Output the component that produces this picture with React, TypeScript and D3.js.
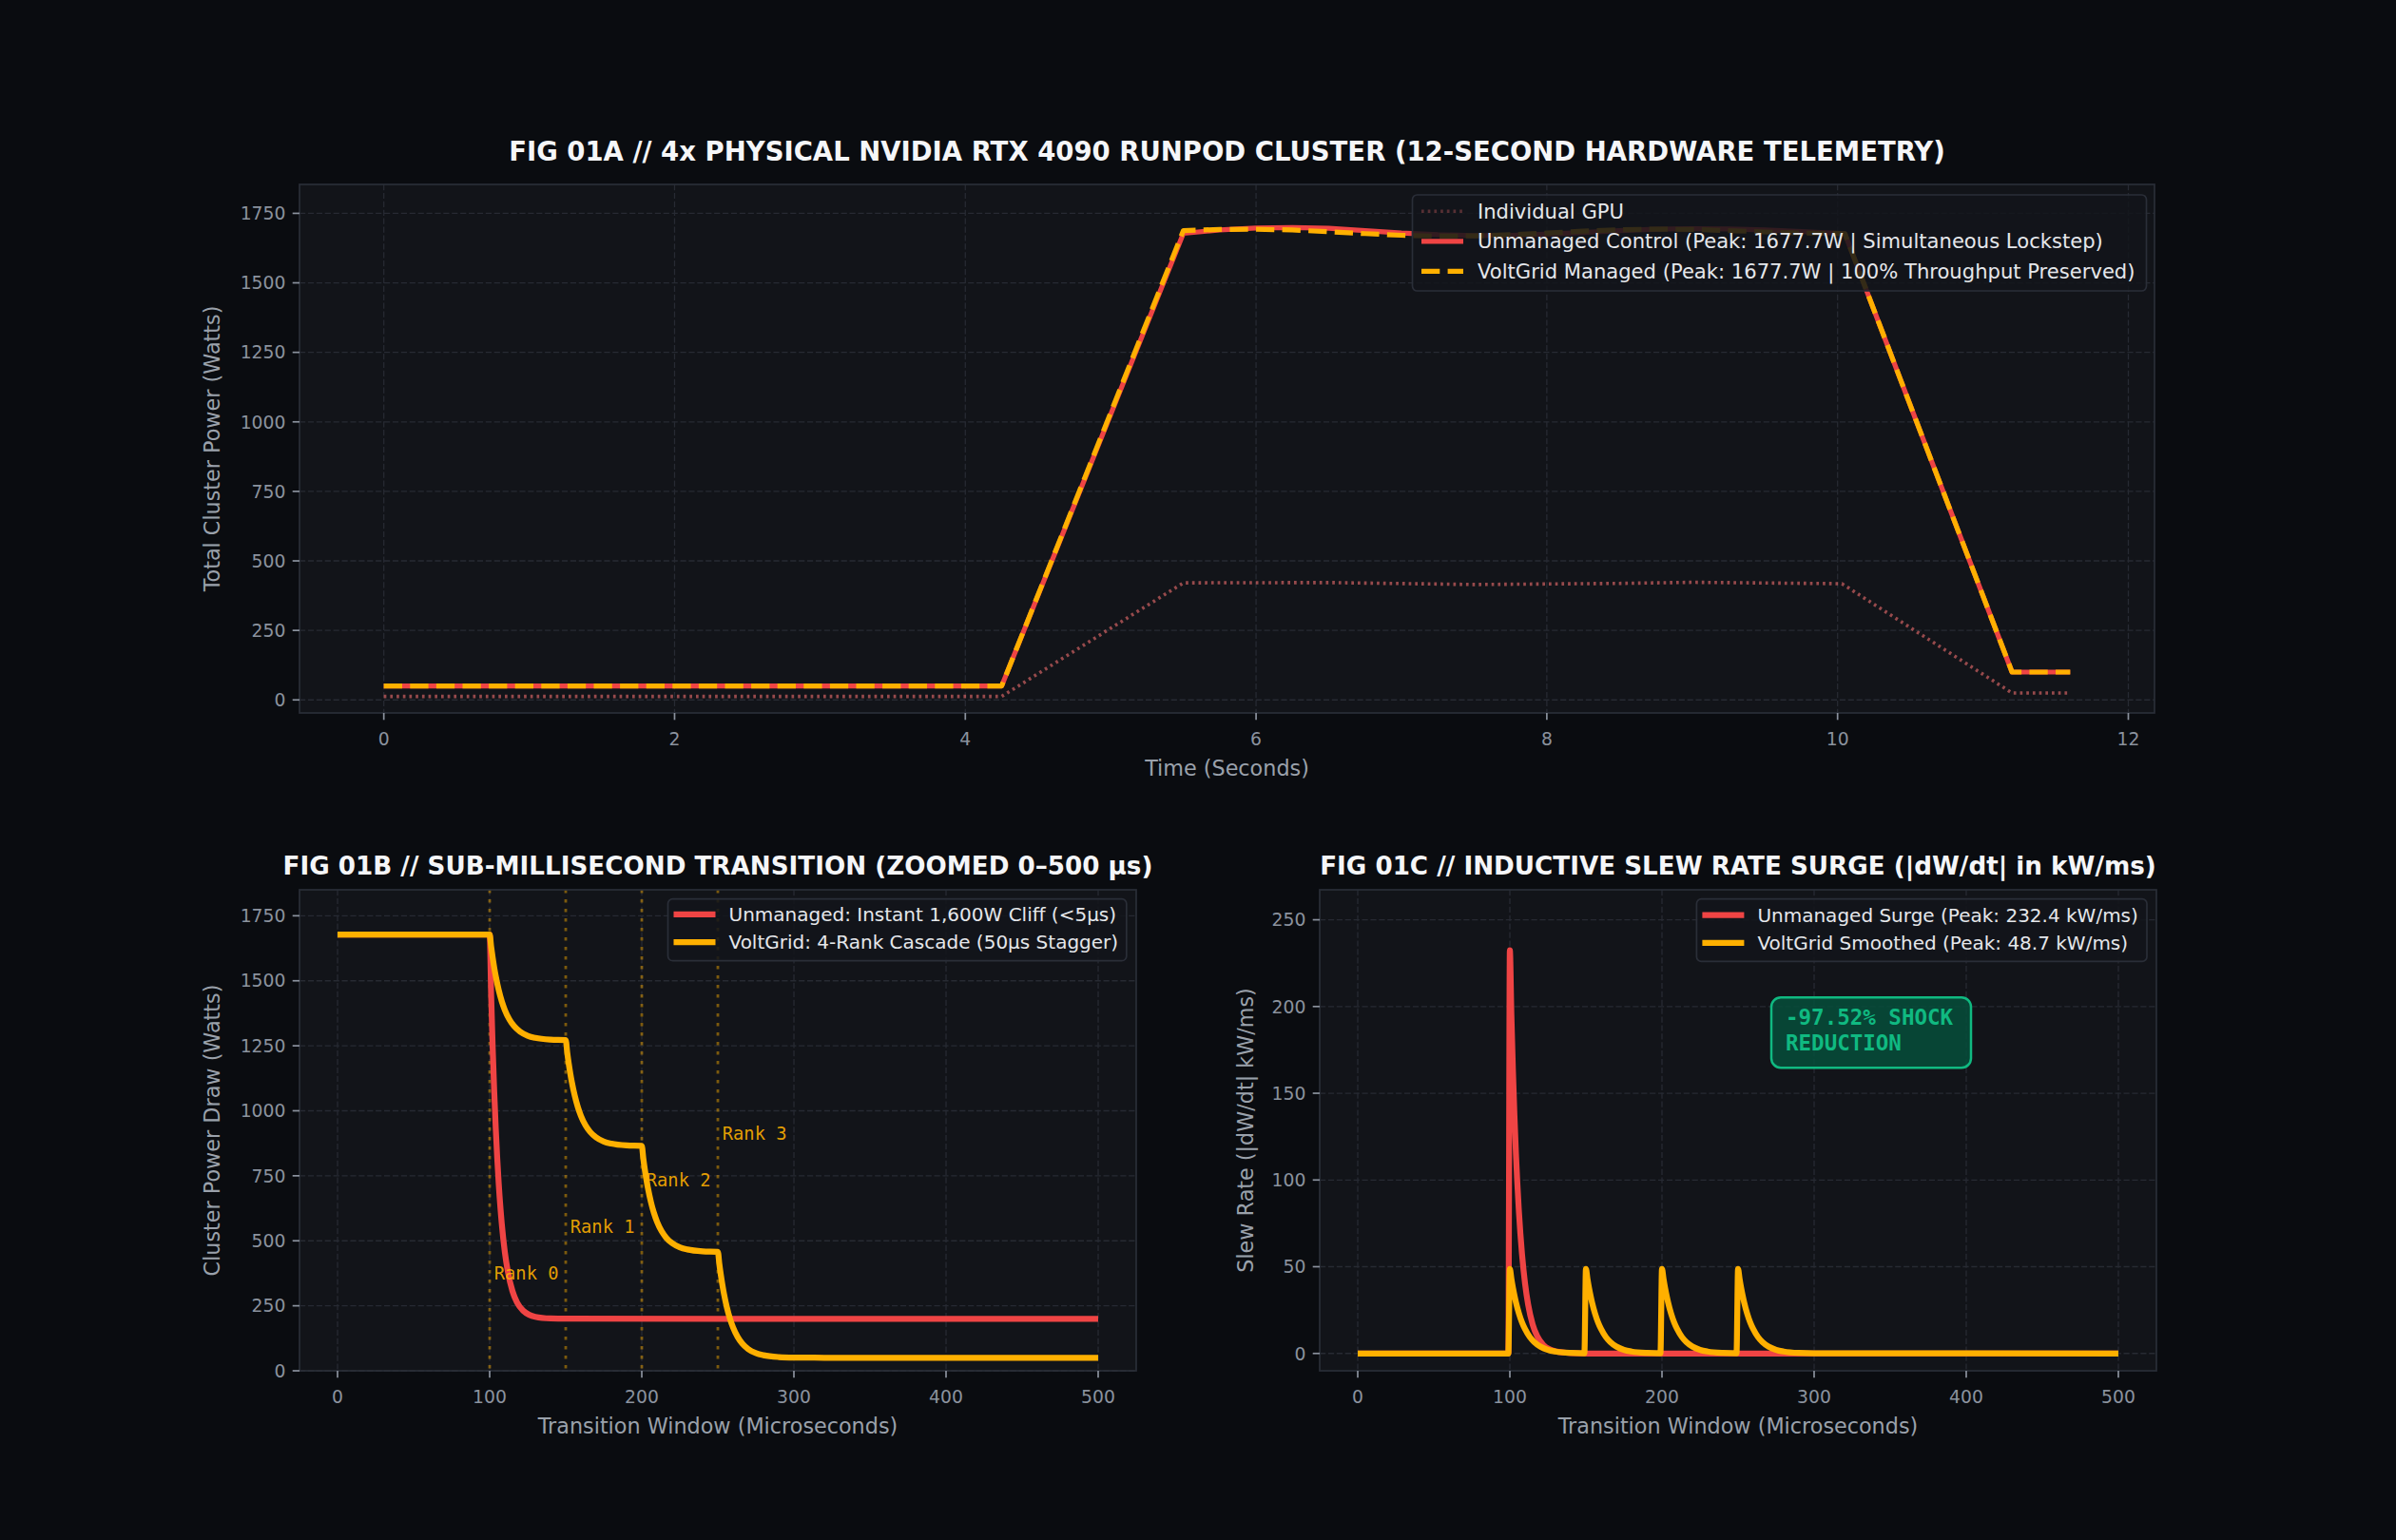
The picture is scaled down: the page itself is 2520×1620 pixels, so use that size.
import React from 'react';
import * as d3 from 'd3';

const WIDTH = 2520;
const HEIGHT = 1620;

// ---------------- FIG 01A : 12-second telemetry ----------------
const fig1aTime = [0, 4.25, 5.5, 5.75, 6.0, 6.25, 6.5, 6.75, 7.0, 7.25, 7.5, 7.75, 8.0, 8.25, 8.5, 8.75, 9.0, 9.25, 9.5, 9.75, 10.05, 11.2, 11.6];
const fig1aUnmanaged = [50, 50, 1678, 1690, 1697, 1699, 1696, 1688, 1679, 1673, 1670, 1671, 1675, 1681, 1688, 1693, 1695, 1694, 1690, 1684, 1677, 100, 100];
const fig1aVoltGrid = [50, 50, 1688, 1692, 1693, 1690, 1684, 1677, 1671, 1668, 1669, 1673, 1679, 1686, 1691, 1693, 1692, 1688, 1683, 1679, 1677, 100, 100];
const fig1aGpuTime = [0, 4.25, 5.5, 6.5, 7.5, 8.5, 9.0, 10.03, 11.2, 11.6];
const fig1aGpu = [12.5, 12.5, 421, 422, 415, 419, 423, 418, 25, 25];
const fig1aXTicks = [0, 2, 4, 6, 8, 10, 12];
const powerTicks = [0, 250, 500, 750, 1000, 1250, 1500, 1750];

// ---------------- FIG 01B : sub-millisecond transition ----------------
const fig1bUnmanagedT = [0, 100, 101, 102, 103, 104, 106, 108, 110, 112, 115, 118, 122, 126, 130, 140, 150, 500];
const fig1bUnmanagedW = [1677.7, 1677.7, 1440, 1240.5, 1073.2, 932.8, 715.9, 563.1, 455.6, 380, 306.2, 262.8, 231.2, 215.4, 207.7, 201.3, 200.2, 200];
const fig1bVoltGridT = [
  0, 100, 101, 102, 103, 104, 106, 108, 110, 113, 116, 120, 125, 130, 140,
  150, 151, 152, 153, 154, 156, 158, 160, 163, 166, 170, 175, 180, 190,
  200, 201, 202, 203, 204, 206, 208, 210, 213, 216, 220, 225, 230, 240,
  250, 251, 252, 253, 254, 256, 258, 260, 263, 266, 270, 275, 280, 290, 300, 320, 500,
];
const fig1bVoltGridW = [
  1677.7, 1677.7, 1629.9, 1587.7, 1550.5, 1517.6, 1463.0, 1420.5, 1387.4, 1350.9, 1325.9, 1304.2, 1288.7, 1280.4, 1273.5,
  1271.6, 1223.3, 1181.0, 1143.8, 1110.9, 1056.3, 1013.7, 980.6, 944.1, 919.1, 897.4, 881.9, 873.6, 866.6,
  864.7, 816.3, 774.1, 736.9, 704.0, 649.4, 606.8, 573.7, 537.2, 512.2, 490.5, 475.0, 466.7, 459.7,
  457.8, 409.4, 367.2, 330.0, 297.1, 242.5, 199.9, 166.8, 130.3, 105.3, 83.6, 68.1, 59.8, 52.9, 51.0, 50.2, 50.1,
];
const rankTimes = [100, 150, 200, 250];
const rankLabels = ['Rank 0', 'Rank 1', 'Rank 2', 'Rank 3'];
const usTicks = [0, 100, 200, 300, 400, 500];

// ---------------- FIG 01C : slew rate ----------------
const fig1cUnmanagedT = [0, 99, 100, 101, 102, 103, 104, 106, 108, 110, 112, 115, 118, 122, 126, 130, 140, 150, 500];
const fig1cUnmanagedV = [0, 0, 232.4, 195.0, 163.6, 137.3, 115.2, 81.1, 57.1, 40.2, 28.3, 16.7, 9.9, 4.9, 2.4, 1.2, 0.2, 0, 0];
const fig1cVoltGridT = [
  0, 99, 100, 101, 102, 103, 104, 106, 108, 110, 113, 116, 120, 125, 130, 140,
  149, 150, 151, 152, 153, 154, 156, 158, 160, 163, 166, 170, 175, 180, 190,
  199, 200, 201, 202, 203, 204, 206, 208, 210, 213, 216, 220, 225, 230, 240,
  249, 250, 251, 252, 253, 254, 256, 258, 260, 263, 266, 270, 275, 280, 290, 300, 500,
];
const fig1cVoltGridV = [
  0, 0, 48.7, 43.0, 37.9, 33.5, 29.5, 23.0, 17.9, 14.0, 9.6, 6.6, 4.0, 2.1, 1.1, 0.3,
  0.1, 48.7, 43.0, 37.9, 33.5, 29.5, 23.0, 17.9, 14.0, 9.6, 6.6, 4.0, 2.1, 1.1, 0.3,
  0.1, 48.7, 43.0, 37.9, 33.5, 29.5, 23.0, 17.9, 14.0, 9.6, 6.6, 4.0, 2.1, 1.1, 0.3,
  0.1, 48.7, 43.0, 37.9, 33.5, 29.5, 23.0, 17.9, 14.0, 9.6, 6.6, 4.0, 2.1, 1.1, 0.3, 0.1, 0,
];
const slewTicks = [0, 50, 100, 150, 200, 250];

// ---------------- styles ----------------
const FIG_BG = '#0a0c10';
const AX_BG = '#121419';
const GRID = '#272a33';
const SPINE = '#2a2e38';
const TICK = '#8b929e';
const LABEL = '#9aa1ab';
const RED = '#ef4444';
const GPU_RED = '#f87171';
const YELLOW = '#ffb000';
const GREEN = '#10b981';
const FONT = '"DejaVu Sans", Verdana, sans-serif';
const MONO = '"DejaVu Sans Mono", monospace';

type Box = { l: number; r: number; t: number; b: number };
type Scale = d3.ScaleLinear<number, number>;

const zip = (ts: number[], vs: number[]): [number, number][] => ts.map((t, i) => [t, vs[i]]);

function pathOf(x: Scale, y: Scale, ts: number[], vs: number[], curve: d3.CurveFactory = d3.curveLinear) {
  return d3
    .line<[number, number]>()
    .x((d) => x(d[0]))
    .y((d) => y(d[1]))
    .curve(curve)(zip(ts, vs)) as string;
}

type LegendRow = { label: string; color: string; width: number; dash?: string; opacity?: number };

function Legend({ left, top, w, h, rows, rowOffsets, hx0, hx1, tx, fontSize }: {
  left: number; top: number; w: number; h: number; rows: LegendRow[]; rowOffsets: number[];
  hx0: number; hx1: number; tx: number; fontSize: number;
}) {
  return (
    <g>
      <rect x={left} y={top} width={w} height={h} rx={5} fill="#13151b" fillOpacity={0.86} stroke={SPINE} strokeWidth={1.7} />
      {rows.map((r, i) => (
        <g key={i}>
          <line x1={left + hx0} x2={left + hx1} y1={top + rowOffsets[i]} y2={top + rowOffsets[i]} stroke={r.color}
            strokeWidth={r.width} strokeDasharray={r.dash} strokeOpacity={r.opacity ?? 1} />
          <text x={left + tx} y={top + rowOffsets[i] + fontSize * 0.36} fill="#e5e7eb" fontSize={fontSize} fontFamily={FONT}>
            {r.label}
          </text>
        </g>
      ))}
    </g>
  );
}

function Frame({ id, box, x, y, xTicks, yTicks, xLabel, yLabel, yLabelOffset, title, titleY, titleSize, children, overlay }: {
  id: string; box: Box; x: Scale; y: Scale; xTicks: number[]; yTicks: number[]; xLabel: string; yLabel: string;
  yLabelOffset: number; title: string; titleY: number; titleSize: number; children: React.ReactNode; overlay?: React.ReactNode;
}) {
  const fs = 18.75;
  const tickLen = 7.3;
  const cx = (box.l + box.r) / 2;
  const cy = (box.t + box.b) / 2;
  return (
    <g>
      <rect x={box.l} y={box.t} width={box.r - box.l} height={box.b - box.t} fill={AX_BG} />
      <clipPath id={id}>
        <rect x={box.l} y={box.t} width={box.r - box.l} height={box.b - box.t} />
      </clipPath>
      <g>
        {xTicks.map((v) => (
          <line key={'gx' + v} x1={x(v)} x2={x(v)} y1={box.t} y2={box.b} stroke={GRID} strokeWidth={1.3} strokeDasharray="6.2 2.7" />
        ))}
        {yTicks.map((v) => (
          <line key={'gy' + v} x1={box.l} x2={box.r} y1={y(v)} y2={y(v)} stroke={GRID} strokeWidth={1.3} strokeDasharray="6.2 2.7" />
        ))}
      </g>
      <g clipPath={`url(#${id})`}>{children}</g>
      <rect x={box.l} y={box.t} width={box.r - box.l} height={box.b - box.t} fill="none" stroke={SPINE} strokeWidth={1.7} />
      {xTicks.map((v) => (
        <g key={'tx' + v}>
          <line x1={x(v)} x2={x(v)} y1={box.b} y2={box.b + tickLen} stroke={TICK} strokeWidth={1.7} />
          <text x={x(v)} y={box.b + 33.5} textAnchor="middle" fill={TICK} fontSize={fs} fontFamily={FONT}>
            {d3.format('d')(v)}
          </text>
        </g>
      ))}
      {yTicks.map((v) => (
        <g key={'ty' + v}>
          <line x1={box.l - tickLen} x2={box.l} y1={y(v)} y2={y(v)} stroke={TICK} strokeWidth={1.7} />
          <text x={box.l - 14.6} y={y(v) + fs * 0.36} textAnchor="end" fill={TICK} fontSize={fs} fontFamily={FONT}>
            {d3.format('d')(v)}
          </text>
        </g>
      ))}
      <text x={cx} y={box.b + 66} textAnchor="middle" fill={LABEL} fontSize={22.3} fontFamily={FONT}>
        {xLabel}
      </text>
      <text transform={`translate(${box.l - yLabelOffset},${cy}) rotate(-90)`} textAnchor="middle" dominantBaseline="central"
        fill={LABEL} fontSize={22.3} fontFamily={FONT}>
        {yLabel}
      </text>
      <text x={cx} y={titleY} textAnchor="middle" fill="#f5f6f8" fontSize={titleSize} fontWeight="bold" fontFamily={FONT}>
        {title}
      </text>
      {overlay}
    </g>
  );
}

export default function App() {
  const A: Box = { l: 315, r: 2266, t: 194, b: 750 };
  const B: Box = { l: 315, r: 1195, t: 936, b: 1442 };
  const C: Box = { l: 1388, r: 2268, t: 936, b: 1442 };

  const xA = d3.scaleLinear().domain([-0.58, 12.18]).range([A.l, A.r]);
  const yA = d3.scaleLinear().domain([-47, 1854]).range([A.b, A.t]);
  const xB = d3.scaleLinear().domain([-25, 525]).range([B.l, B.r]);
  const yB = d3.scaleLinear().domain([0, 1850]).range([B.b, B.t]);
  const xC = d3.scaleLinear().domain([-25, 525]).range([C.l, C.r]);
  const yC = d3.scaleLinear().domain([-10, 267.3]).range([C.b, C.t]);

  const topDash = '19.3 8.3';
  const gpuDash = '2.7 4';

  const annX = xC(280);
  const annY = yC(185);

  return (
    <svg width={WIDTH} height={HEIGHT} viewBox={`0 0 ${WIDTH} ${HEIGHT}`}
      style={{ position: 'absolute', left: 0, top: 0, display: 'block' }} xmlns="http://www.w3.org/2000/svg">
      <rect width={WIDTH} height={HEIGHT} fill={FIG_BG} />

      {/* FIG 01A */}
      <Frame id="clipA" box={A} x={xA} y={yA} xTicks={fig1aXTicks} yTicks={powerTicks}
        xLabel="Time (Seconds)" yLabel="Total Cluster Power (Watts)" yLabelOffset={92}
        title="FIG 01A // 4x PHYSICAL NVIDIA RTX 4090 RUNPOD CLUSTER (12-SECOND HARDWARE TELEMETRY)" titleY={169} titleSize={27.5}
        overlay={
          <Legend left={A.r - 8.5 - 772} top={A.t + 11} w={772} h={101} fontSize={21.1}
            rowOffsets={[17.3, 48.8, 80.4]} hx0={9.5} hx1={53.5} tx={68.5}
            rows={[
              { label: 'Individual GPU', color: GPU_RED, width: 3.4, dash: gpuDash, opacity: 0.3 },
              { label: 'Unmanaged Control (Peak: 1677.7W | Simultaneous Lockstep)', color: RED, width: 5.2 },
              { label: 'VoltGrid Managed (Peak: 1677.7W | 100% Throughput Preserved)', color: YELLOW, width: 5.2, dash: topDash },
            ]} />
        }>
        <path d={pathOf(xA, yA, fig1aGpuTime, fig1aGpu)} fill="none" stroke={GPU_RED} strokeOpacity={0.58} strokeWidth={3.6}
          strokeDasharray={gpuDash} />
        <path d={pathOf(xA, yA, fig1aTime, fig1aUnmanaged)} fill="none" stroke={RED} strokeWidth={5.2} strokeLinejoin="round" />
        <path d={pathOf(xA, yA, fig1aTime, fig1aVoltGrid)} fill="none" stroke={YELLOW} strokeWidth={5.2}
          strokeDasharray={topDash} strokeLinejoin="round" />
      </Frame>

      {/* FIG 01B */}
      <Frame id="clipB" box={B} x={xB} y={yB} xTicks={usTicks} yTicks={powerTicks}
        xLabel="Transition Window (Microseconds)" yLabel="Cluster Power Draw (Watts)" yLabelOffset={92}
        title="FIG 01B // SUB-MILLISECOND TRANSITION (ZOOMED 0–500 μs)" titleY={920} titleSize={26.2}
        overlay={
          <g>
            {rankTimes.map((t, i) => (
              <text key={'rl' + i} x={xB(t + 3)} y={yB(350 + 180 * i)} fill={YELLOW} fillOpacity={0.9} fontSize={18.75} fontFamily={MONO}>
                {rankLabels[i]}
              </text>
            ))}
            <Legend left={B.r - 10.2 - 482.3} top={B.t + 9.7} w={482.3} h={65} fontSize={20}
              rowOffsets={[16.1, 45.3]} hx0={6} hx1={50} tx={64}
              rows={[
                { label: 'Unmanaged: Instant 1,600W Cliff (<5μs)', color: RED, width: 6.25 },
                { label: 'VoltGrid: 4-Rank Cascade (50μs Stagger)', color: YELLOW, width: 6.25 },
              ]} />
          </g>
        }>
        {rankTimes.map((t) => (
          <line key={'rv' + t} x1={xB(t)} x2={xB(t)} y1={B.t} y2={B.b} stroke={YELLOW} strokeOpacity={0.45}
            strokeWidth={2.8} strokeDasharray="3.5 6.5" />
        ))}
        <path d={pathOf(xB, yB, fig1bUnmanagedT, fig1bUnmanagedW, d3.curveMonotoneX)} fill="none" stroke={RED} strokeWidth={6.25}
          strokeLinejoin="round" />
        <path d={pathOf(xB, yB, fig1bVoltGridT, fig1bVoltGridW, d3.curveMonotoneX)} fill="none" stroke={YELLOW} strokeWidth={6.25}
          strokeLinejoin="round" />
      </Frame>

      {/* FIG 01C */}
      <Frame id="clipC" box={C} x={xC} y={yC} xTicks={usTicks} yTicks={slewTicks}
        xLabel="Transition Window (Microseconds)" yLabel="Slew Rate (|dW/dt| kW/ms)" yLabelOffset={78}
        title="FIG 01C // INDUCTIVE SLEW RATE SURGE (|dW/dt| in kW/ms)" titleY={920} titleSize={26.2}
        overlay={
          <g>
            <rect x={annX - 13} y={annY - 37} width={210} height={74} rx={10} fill="#064e3b" fillOpacity={0.85}
              stroke={GREEN} strokeWidth={2.5} />
            <text x={annX + 2} y={annY - 8} fill={GREEN} fontSize={22.5} fontWeight="bold" fontFamily={MONO}>-97.52% SHOCK</text>
            <text x={annX + 2} y={annY + 19} fill={GREEN} fontSize={22.5} fontWeight="bold" fontFamily={MONO}>REDUCTION</text>
            <Legend left={C.r - 10 - 473.6} top={C.t + 9.7} w={473.6} h={65.7} fontSize={20}
              rowOffsets={[16.8, 46.1]} hx0={6} hx1={50} tx={64}
              rows={[
                { label: 'Unmanaged Surge (Peak: 232.4 kW/ms)', color: RED, width: 6.25 },
                { label: 'VoltGrid Smoothed (Peak: 48.7 kW/ms)', color: YELLOW, width: 6.25 },
              ]} />
          </g>
        }>
        <path d={pathOf(xC, yC, fig1cUnmanagedT, fig1cUnmanagedV, d3.curveMonotoneX)} fill="none" stroke={RED} strokeWidth={6.25}
          strokeLinejoin="round" />
        <path d={pathOf(xC, yC, fig1cVoltGridT, fig1cVoltGridV, d3.curveMonotoneX)} fill="none" stroke={YELLOW} strokeWidth={6.25}
          strokeLinejoin="round" />
      </Frame>
    </svg>
  );
}
